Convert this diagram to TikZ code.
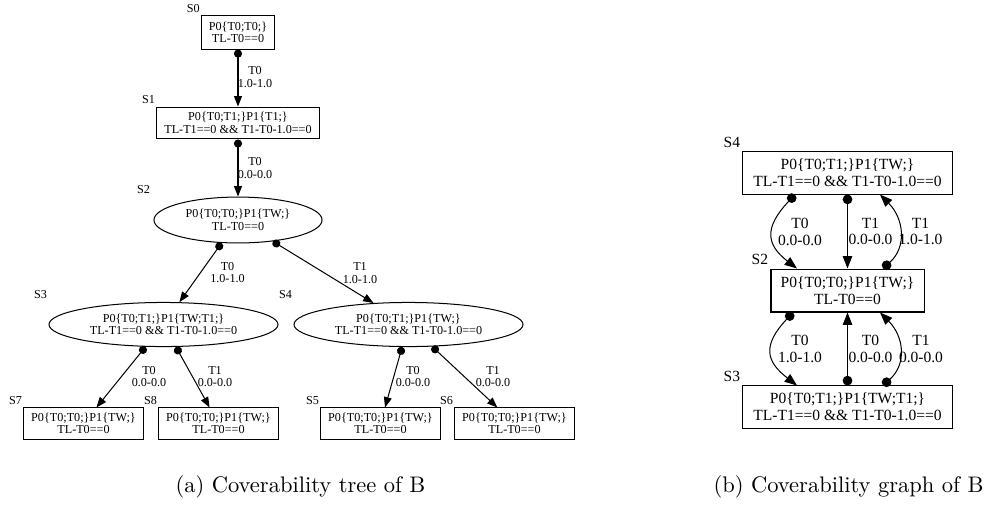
\documentclass[tikz,border=0pt]{standalone}
\usepackage{fontspec}
\newfontfamily\gvfont{Liberation Serif}
\usetikzlibrary{arrows.meta,shapes.geometric,calc}

\begin{document}
\begin{tikzpicture}[x=0.4444pt,y=-0.4444pt,
  tfont/.style={font=\gvfont\fontsize{5.4}{5.6}\selectfont},
  gfont/.style={font=\gvfont\fontsize{6.9}{7.5}\selectfont},
  tbox/.style={tfont,draw,line width=0.45pt,inner sep=0pt,align=center,
    minimum height=14pt},
  tell/.style={tfont,draw,ellipse,line width=0.45pt,inner sep=0pt,align=center},
  gbox/.style={gfont,draw,line width=0.45pt,inner sep=0pt,align=center},
  tlbl/.style={tfont,inner sep=0pt,align=center},
  glbl/.style={gfont,inner sep=0pt,align=center},
  tname/.style={tfont,inner sep=0pt,anchor=base east},
  gname/.style={gfont,inner sep=0pt,anchor=base east},
  tedge/.style={line width=0.45pt,
    {Circle[length=3.6pt]}-{Triangle[length=4.6pt,width=3.5pt]}},
  gedge/.style={line width=0.45pt,
    {Circle[length=4.3pt]}-{Triangle[length=5.5pt,width=4.2pt]}},
  caption/.style={font=\fontsize{10}{12}\selectfont,inner sep=0pt}]

\useasboundingbox (0,0) rectangle (983,514);

% ---------- coverability tree ----------
\node[tbox,minimum width=32.4pt,minimum height=14.7pt] (S0) at (238,32.5)
  {P0\{T0;T0;\}\\TL-T0==0};
\node[tbox,minimum width=72pt,minimum height=14.2pt] (S1) at (238,123)
  {P0\{T0;T1;\}P1\{T1;\}\\TL-T1==0 \&\& T1-T0-1.0==0};
\node[tell,minimum width=74.7pt,minimum height=20.4pt] (S2) at (238,220)
  {P0\{T0;T0;\}P1\{TW;\}\\TL-T0==0};
\node[tell,minimum width=101.8pt,minimum height=19.6pt] (S3) at (163.5,324.5)
  {P0\{T0;T1;\}P1\{TW;T1;\}\\TL-T1==0 \&\& T1-T0-1.0==0};
\node[tell,minimum width=101.8pt,minimum height=19.6pt] (S4) at (408.5,324.5)
  {P0\{T0;T1;\}P1\{TW;\}\\TL-T1==0 \&\& T1-T0-1.0==0};
\node[tbox,minimum width=52.9pt,minimum height=13.8pt] (S7) at (83.5,423.5)
  {P0\{T0;T0;\}P1\{TW;\}\\TL-T0==0};
\node[tbox,minimum width=52.9pt,minimum height=13.8pt] (S8) at (218.5,423.5)
  {P0\{T0;T0;\}P1\{TW;\}\\TL-T0==0};
\node[tbox,minimum width=52.9pt,minimum height=13.8pt] (S5) at (380.5,423.5)
  {P0\{T0;T0;\}P1\{TW;\}\\TL-T0==0};
\node[tbox,minimum width=52.9pt,minimum height=13.8pt] (S6) at (514.5,423.5)
  {P0\{T0;T0;\}P1\{TW;\}\\TL-T0==0};

% state names
\node[tname] (nS0) at ($(S0.north west)+(-1,-3)$) {S0};
\node[tname] (nS1) at ($(S1.north west)+(-1,-3)$) {S1};
\node[tname] (nS2) at ($(S2.west |- S2.north)+(-3,-3)$) {S2};
\node[tname] (nS3) at ($(S3.west |- S3.north)+(-1,-3)$) {S3};
\node[tname] (nS4) at ($(S4.west |- S4.north)+(-1,-3)$) {S4};
\node[tname] (nS7) at ($(S7.north west)+(-1,-3)$) {S7};
\node[tname] (nS8) at ($(S8.north west)+(-1,-3)$) {S8};
\node[tname] (nS5) at ($(S5.north west)+(-1,-3)$) {S5};
\node[tname] (nS6) at ($(S6.north west)+(-1,-3)$) {S6};

% transitions
\draw[tedge] (S0) -- (S1);
\draw[tedge] (S1) -- (S2);
\draw[tedge] (S2) -- (S3);
\draw[tedge] (S2) -- (S4);
\draw[tedge] (S3) -- (S7);
\draw[tedge] (S3) -- (S8);
\draw[tedge] (S4) -- (S5);
\draw[tedge] (S4) -- (S6);

\node[tlbl] (l01) at (255,77) {T0\\1.0-1.0};
\node[tlbl] (l12) at (255,168) {T0\\0.0-0.0};
\node[tlbl] (l23) at (227.5,272.5) {T0\\1.0-1.0};
\node[tlbl] (l24) at (360,273) {T1\\1.0-1.0};
\node[tlbl] (l37) at (149,376.5) {T0\\0.0-0.0};
\node[tlbl] (l38) at (215,376.5) {T1\\0.0-0.0};
\node[tlbl] (l45) at (413,376.5) {T0\\0.0-0.0};
\node[tlbl] (l46) at (493,376.5) {T1\\0.0-0.0};

% ---------- coverability graph ----------
\node[gbox,minimum width=92.9pt,minimum height=18.7pt] (G4) at (847.5,173)
  {P0\{T0;T1;\}P1\{TW;\}\\TL-T1==0 \&\& T1-T0-1.0==0};
\node[gbox,minimum width=68pt,minimum height=19.1pt] (G2) at (847.5,290.5)
  {P0\{T0;T0;\}P1\{TW;\}\\TL-T0==0};
\node[gbox,minimum width=92.9pt,minimum height=18.7pt] (G3) at (847.5,407)
  {P0\{T0;T1;\}P1\{TW;T1;\}\\TL-T1==0 \&\& T1-T0-1.0==0};

\node[gname] (nG4) at ($(G4.north west)+(-2,-4)$) {S4};
\node[gname] (nG2) at ($(G2.north west)+(-2,-4)$) {S2};
\node[gname] (nG3) at ($(G3.north west)+(-2,-4)$) {S3};

\draw[gedge] ($(G4.south)+(-52.5,0)$) .. controls +(-31,33) and +(-31,-24) .. ($(G2.north)+(-50.5,0)$);
\draw[gedge] (G4) -- (G2);
\draw[gedge] ($(G2.north)+(35.5,0)$) .. controls +(24,-21.6) and +(24,24) .. ($(G4.south)+(32.5,0)$);
\draw[gedge] ($(G2.south)+(-54.5,0)$) .. controls +(-31,33) and +(-31,-24) .. ($(G3.north)+(-50.5,0)$);
\draw[gedge] (G3) -- (G2);
\draw[gedge] ($(G3.north)+(35.5,0)$) .. controls +(24,-21.6) and +(24,24) .. ($(G2.south)+(32.5,0)$);

\node[glbl] (m42a) at (800,231.5) {T0\\0.0-0.0};
\node[glbl] (m42b) at (870.5,231.5) {T1\\0.0-0.0};
\node[glbl] (m24) at (920.5,231.5) {T1\\1.0-1.0};
\node[glbl] (m23) at (800,349) {T0\\1.0-1.0};
\node[glbl] (m32a) at (870.5,349) {T0\\0.0-0.0};
\node[glbl] (m32b) at (921,349) {T1\\0.0-0.0};

% ---------- captions ----------
\node[caption] (capA) at (300.5,487) {(a) Coverability tree of B};
\node[caption] (capB) at (848.5,487) {(b) Coverability graph of B};
\end{tikzpicture}
\end{document}
